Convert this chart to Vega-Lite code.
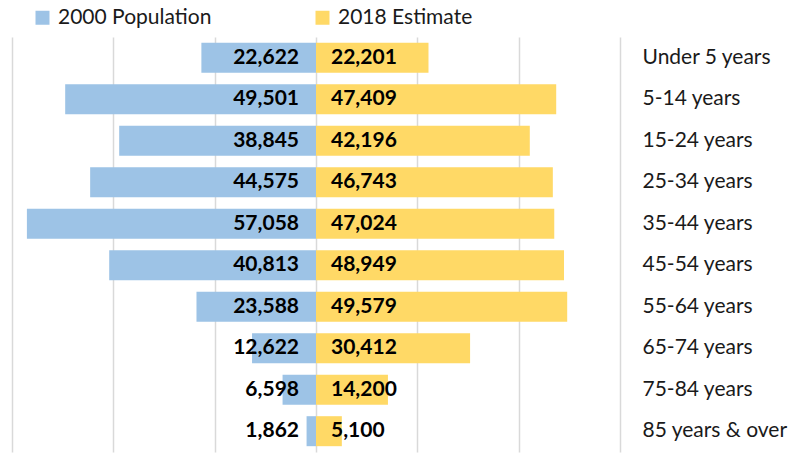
{
  "$schema": "https://vega.github.io/schema/vega-lite/v6.json",
  "width": 608,
  "height": 415,
  "autosize": {"type": "none"},
  "padding": {"left": 12, "top": 37, "right": 189, "bottom": 2},
  "background": "white",
  "config": {"view": {"stroke": null}, "font": "Lato"},
  "data": {
    "values": [
      {"age": "Under 5 years", "2000 Population": 22622, "2018 Estimate": 22201},
      {"age": "5-14 years", "2000 Population": 49501, "2018 Estimate": 47409},
      {"age": "15-24 years", "2000 Population": 38845, "2018 Estimate": 42196},
      {"age": "25-34 years", "2000 Population": 44575, "2018 Estimate": 46743},
      {"age": "35-44 years", "2000 Population": 57058, "2018 Estimate": 47024},
      {"age": "45-54 years", "2000 Population": 40813, "2018 Estimate": 48949},
      {"age": "55-64 years", "2000 Population": 23588, "2018 Estimate": 49579},
      {"age": "65-74 years", "2000 Population": 12622, "2018 Estimate": 30412},
      {"age": "75-84 years", "2000 Population": 6598, "2018 Estimate": 14200},
      {"age": "85 years & over", "2000 Population": 1862, "2018 Estimate": 5100}
    ]
  },
  "transform": [
    {"fold": ["2000 Population", "2018 Estimate"], "as": ["series", "value"]},
    {"calculate": "datum.series === '2000 Population' ? -datum.value : datum.value", "as": "signed"}
  ],
  "encoding": {
    "y": {
      "field": "age",
      "type": "nominal",
      "sort": null,
      "scale": {"paddingInner": 0.277, "paddingOuter": 0.14},
      "axis": {
        "orient": "right",
        "title": null,
        "domain": false,
        "ticks": false,
        "labelPadding": 22,
        "labelAlign": "left",
        "labelFont": "Lato",
        "labelFontSize": 21,
        "labelColor": "#1a1a1a",
        "labelLimit": 300
      }
    }
  },
  "layer": [
    {
      "mark": {"type": "bar"},
      "encoding": {
        "x": {
          "field": "signed",
          "type": "quantitative",
          "scale": {"domain": [-60000, 60000], "nice": false},
          "axis": {
            "title": null,
            "labels": false,
            "ticks": false,
            "domain": false,
            "values": [-60000, -40000, -20000, 0, 20000, 40000, 60000],
            "gridColor": "#d9d9d9",
            "gridWidth": 1.5
          }
        },
        "color": {
          "field": "series",
          "type": "nominal",
          "scale": {"domain": ["2000 Population", "2018 Estimate"], "range": ["#9DC3E6", "#FFD966"]},
          "legend": {
            "title": null,
            "orient": "none",
            "legendX": 20,
            "legendY": -30,
            "direction": "horizontal",
            "symbolType": "square",
            "symbolSize": 196,
            "symbolStrokeWidth": 0,
            "symbolOpacity": 1,
            "labelFont": "Lato",
            "labelFontSize": 21,
            "labelColor": "#1a1a1a",
            "labelOffset": 5,
            "columnPadding": 100
          }
        }
      }
    },
    {
      "transform": [{"filter": "datum.series === '2000 Population'"}],
      "mark": {"type": "text", "align": "right", "dx": -17, "fontWeight": "bold", "fontSize": 21, "font": "Lato", "color": "#000"},
      "encoding": {
        "x": {"datum": 0, "type": "quantitative"},
        "text": {"field": "value", "type": "quantitative", "format": ","}
      }
    },
    {
      "transform": [{"filter": "datum.series === '2018 Estimate'"}],
      "mark": {"type": "text", "align": "left", "dx": 15, "fontWeight": "bold", "fontSize": 21, "font": "Lato", "color": "#000"},
      "encoding": {
        "x": {"datum": 0, "type": "quantitative"},
        "text": {"field": "value", "type": "quantitative", "format": ","}
      }
    }
  ]
}
